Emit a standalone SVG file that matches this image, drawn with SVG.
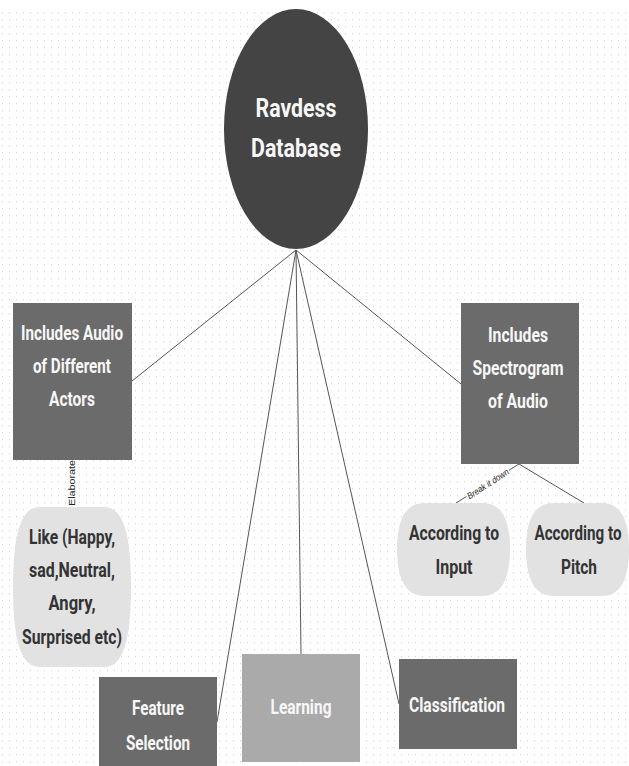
<svg xmlns="http://www.w3.org/2000/svg" width="629" height="766" viewBox="0 0 629 766">
  <defs>
    <pattern id="dots" x="0" y="12" width="7" height="7" patternUnits="userSpaceOnUse">
      <rect x="2" y="0" width="1" height="1.3" fill="#d8d8d8"/>
    </pattern>
  </defs>
  <style>
    .conn { stroke: #555555; stroke-width: 1; fill: none; }
    .dark { fill: #6b6b6b; }
    .light { fill: #e2e2e2; }
    .wt { font-family: Roboto, "Liberation Sans", sans-serif; font-weight: bold; fill: #f7f7f7; text-anchor: middle; }
    .bt { font-family: Roboto, "Liberation Sans", sans-serif; font-weight: bold; fill: #333333; text-anchor: middle; }
    .lbl { font-family: "Liberation Sans", Arial, sans-serif; font-size: 9px; fill: #222222; text-anchor: middle; }
  </style>
  <rect x="0" y="0" width="629" height="766" fill="#ffffff"/>
  <rect x="0" y="10" width="629" height="756" fill="url(#dots)"/>

  <g id="connectors">
    <line class="conn" x1="296" y1="250" x2="132" y2="381"/>
    <line class="conn" x1="296" y1="250" x2="461" y2="384"/>
    <line class="conn" x1="296" y1="250" x2="217" y2="722"/>
    <line class="conn" x1="296" y1="250" x2="301" y2="654"/>
    <line class="conn" x1="296" y1="250" x2="399" y2="704"/>
    <line class="conn" x1="72" y1="460" x2="72" y2="507"/>
    <line class="conn" x1="519" y1="464" x2="456" y2="503"/>
    <line class="conn" x1="519" y1="464" x2="584" y2="503"/>
    <g transform="translate(72,483) rotate(-90)">
      <rect x="-24" y="-6" width="48" height="11" fill="#ffffff"/>
      <text class="lbl" x="0" y="3" textLength="46" lengthAdjust="spacingAndGlyphs">Elaborate</text>
    </g>
    <g transform="translate(488,484) rotate(-33)">
      <rect x="-25" y="-6" width="50" height="11" fill="#ffffff"/>
      <text class="lbl" x="0" y="3" font-style="italic" textLength="48" lengthAdjust="spacingAndGlyphs">Break it down</text>
    </g>
  </g>

  <g id="ravdess">
    <ellipse cx="296" cy="129" rx="72" ry="120" fill="#444444"/>
    <text class="wt" x="296" y="117" font-size="26" textLength="81" lengthAdjust="spacingAndGlyphs">Ravdess</text>
    <text class="wt" x="296" y="157" font-size="26" textLength="90" lengthAdjust="spacingAndGlyphs">Database</text>
  </g>

  <g id="audio-actors">
    <rect class="dark" x="13" y="303" width="119" height="157"/>
    <text class="wt" x="72" y="340" font-size="21" textLength="102" lengthAdjust="spacingAndGlyphs">Includes Audio</text>
    <text class="wt" x="72" y="373" font-size="21" textLength="78" lengthAdjust="spacingAndGlyphs">of Different</text>
    <text class="wt" x="72" y="406" font-size="21" textLength="46" lengthAdjust="spacingAndGlyphs">Actors</text>
  </g>

  <g id="emotions">
    <path class="light" d="M40,507 H104 C122,507 131,530 131,587 C131,644 122,667 104,667 H40 C22,667 13,644 13,587 C13,530 22,507 40,507 Z"/>
    <text class="bt" x="72" y="544" font-size="20" textLength="86" lengthAdjust="spacingAndGlyphs">Like (Happy,</text>
    <text class="bt" x="72" y="577" font-size="20" textLength="86" lengthAdjust="spacingAndGlyphs">sad,Neutral,</text>
    <text class="bt" x="72" y="610" font-size="20" textLength="47" lengthAdjust="spacingAndGlyphs">Angry,</text>
    <text class="bt" x="72" y="644" font-size="20" textLength="100" lengthAdjust="spacingAndGlyphs">Surprised etc)</text>
  </g>

  <g id="spectrogram">
    <rect class="dark" x="461" y="303" width="118" height="161"/>
    <text class="wt" x="518" y="342" font-size="21" textLength="60" lengthAdjust="spacingAndGlyphs">Includes</text>
    <text class="wt" x="518" y="375" font-size="21" textLength="91" lengthAdjust="spacingAndGlyphs">Spectrogram</text>
    <text class="wt" x="518" y="408" font-size="21" textLength="60" lengthAdjust="spacingAndGlyphs">of Audio</text>
  </g>

  <g id="input">
    <path class="light" d="M425,503 H482 C502,503 510,520 510,549 C510,578 502,596 482,596 H425 C405,596 397,578 397,549 C397,520 405,503 425,503 Z"/>
    <text class="bt" x="454" y="540" font-size="20" textLength="90" lengthAdjust="spacingAndGlyphs">According to</text>
    <text class="bt" x="454" y="574" font-size="20" textLength="37" lengthAdjust="spacingAndGlyphs">Input</text>
  </g>

  <g id="pitch">
    <path class="light" d="M554,503 H602 C621,503 629,520 629,549 C629,578 621,596 602,596 H554 C534,596 526,578 526,549 C526,520 534,503 554,503 Z"/>
    <text class="bt" transform="translate(578,540) scale(0.76,1)" x="0" y="0" font-size="20">According to</text>
    <text class="bt" x="579" y="574" font-size="20" textLength="36" lengthAdjust="spacingAndGlyphs">Pitch</text>
  </g>

  <g id="feature-selection">
    <rect class="dark" x="99" y="677" width="118" height="100"/>
    <text class="wt" x="158" y="715" font-size="21" textLength="52" lengthAdjust="spacingAndGlyphs">Feature</text>
    <text class="wt" x="158" y="750" font-size="21" textLength="64" lengthAdjust="spacingAndGlyphs">Selection</text>
  </g>

  <g id="learning">
    <rect x="242" y="654" width="118" height="108" fill="#aaaaaa"/>
    <text class="wt" x="301" y="714" font-size="21" textLength="61" lengthAdjust="spacingAndGlyphs">Learning</text>
  </g>

  <g id="classification">
    <rect class="dark" x="399" y="659" width="118" height="90"/>
    <text class="wt" x="457" y="712" font-size="21" textLength="96" lengthAdjust="spacingAndGlyphs">Classification</text>
  </g>
</svg>
